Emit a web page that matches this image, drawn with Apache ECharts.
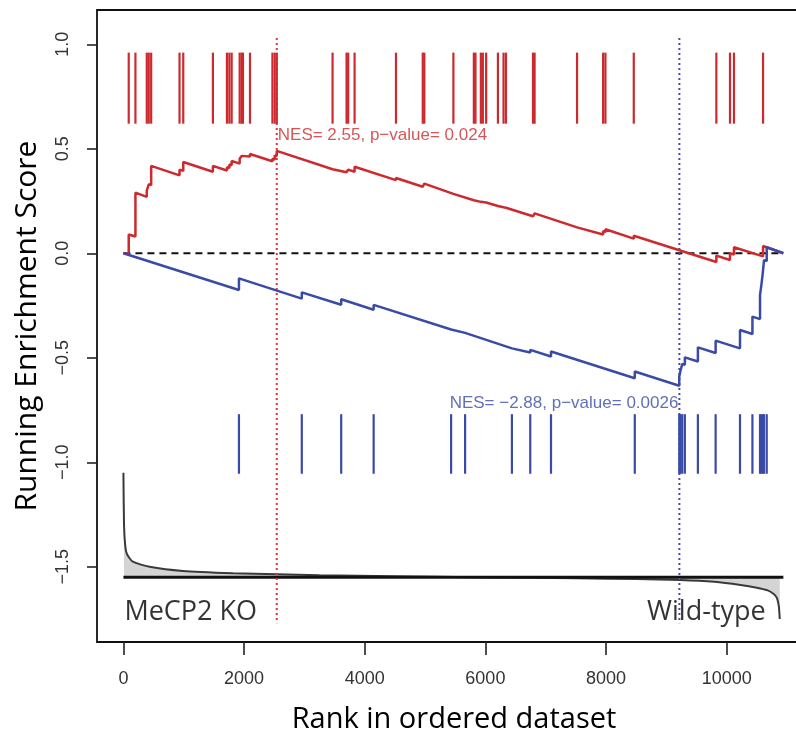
<!DOCTYPE html>
<html>
<head>
<meta charset="utf-8">
<script src="https://cdn.jsdelivr.net/npm/echarts@6/dist/echarts.min.js"></script>
<style>
  html, body { margin: 0; padding: 0; background: #fff; }
  #chart { width: 796px; height: 733px; }
</style>
</head>
<body>
<div id="chart"></div>
<script>
// axis ticks
const xTicks = [0, 2000, 4000, 6000, 8000, 10000];
const yTicks = [-1.5, -1.0, -0.5, 0.0, 0.5, 1.0];
const totalRank = 10940;

// gene set hits (rank positions)
const redHits = [88, 199, 387, 420, 460, 930, 992, 1483, 1716, 1756, 1794, 1927, 1960, 1982, 2098,
  2470, 2508, 2542, 3467, 3699, 3726, 3832, 4518, 4962, 4988, 5470, 5809, 5836, 5925, 5958, 6013,
  6208, 6301, 6341, 6789, 6816, 7520, 7952, 7990, 8460, 9829, 10055, 10121, 10603];
const blueHits = [1915, 2957, 3610, 4148, 5432, 5664, 6440, 6744, 7088, 8477, 9214, 9236, 9264, 9307,
  9523, 9817, 10221, 10427, 10553, 10576, 10598, 10619, 10664];

// running enrichment score [rank, score]
const redES = [[0, 0], [88, 0], [88, 0.09], [199, 0.08], [199, 0.29], [387, 0.27], [387, 0.30],
  [420, 0.297], [420, 0.33], [460, 0.326], [460, 0.418], [930, 0.373], [930, 0.40], [992, 0.394],
  [992, 0.437], [1483, 0.39], [1483, 0.418], [1716, 0.396], [1716, 0.412], [1756, 0.408], [1756, 0.425],
  [1794, 0.421], [1794, 0.442], [1927, 0.429], [1927, 0.452], [1960, 0.449], [1960, 0.466],
  [1982, 0.464], [1982, 0.474], [2098, 0.463], [2098, 0.475], [2470, 0.44], [2470, 0.452],
  [2508, 0.449], [2508, 0.468], [2542, 0.465], [2542, 0.49], [3467, 0.402], [3467, 0.41],
  [3699, 0.388], [3699, 0.396], [3726, 0.393], [3726, 0.40], [3832, 0.39], [3832, 0.414],
  [4518, 0.35], [4518, 0.36], [4962, 0.318], [4962, 0.325], [4988, 0.323], [4988, 0.333],
  [5470, 0.284], [5470, 0.288], [5809, 0.254], [5809, 0.256], [5836, 0.253], [5836, 0.255],
  [5925, 0.246], [5925, 0.249], [5958, 0.246], [5958, 0.248], [6013, 0.243], [6013, 0.245],
  [6208, 0.226], [6208, 0.229], [6301, 0.22], [6301, 0.222], [6341, 0.218], [6341, 0.221],
  [6789, 0.177], [6789, 0.185], [6816, 0.182], [6816, 0.191], [7520, 0.124], [7520, 0.131],
  [7952, 0.09], [7952, 0.106], [7990, 0.102], [7990, 0.115], [8460, 0.07], [8460, 0.084],
  [9829, -0.042], [9829, -0.011], [10055, -0.032], [10055, 0.0], [10121, -0.006], [10121, 0.029],
  [10603, -0.015], [10603, 0.035], [10940, 0]];
const blueES = [[0, 0], [1915, -0.176], [1915, -0.12], [2957, -0.217], [2957, -0.187],
  [3610, -0.246], [3610, -0.22], [4148, -0.27], [4148, -0.247], [5432, -0.365], [5432, -0.36],
  [5664, -0.381], [5664, -0.375], [6440, -0.455], [6440, -0.447], [6744, -0.475], [6744, -0.462],
  [7088, -0.494], [7088, -0.47], [8477, -0.598], [8477, -0.566], [9214, -0.634], [9214, -0.59],
  [9236, -0.592], [9236, -0.56], [9264, -0.563], [9264, -0.53], [9307, -0.534], [9307, -0.498],
  [9523, -0.518], [9523, -0.45], [9817, -0.477], [9817, -0.418], [10221, -0.455], [10221, -0.367],
  [10427, -0.386], [10427, -0.303], [10553, -0.315], [10553, -0.2], [10576, -0.202], [10576, -0.15],
  [10598, -0.152], [10598, -0.096], [10619, -0.098], [10619, -0.033], [10664, -0.037], [10664, 0.029],
  [10940, 0]];

// ranked list metric (bottom panel)
const metricRank = [0, 10, 30, 60, 155, 432, 985, 1815, 2540, 3253, 4500, 6000, 7500, 8500, 9230,
  9800, 10230, 10500, 10670, 10780, 10834, 10865, 10880];
const metricScore = [-1.05, -1.30, -1.40, -1.44, -1.476, -1.50, -1.52, -1.531, -1.536, -1.541, -1.545,
  -1.551, -1.555, -1.559, -1.563, -1.572, -1.587, -1.60, -1.612, -1.63, -1.65, -1.69, -1.75];
const metricBase = -1.55;

const redPeakRank = 2542;
const bluePeakRank = 9216;
const redLabel = 'NES= 2.55, p\u2212value= 0.024';
const blueLabel = 'NES= \u22122.88, p\u2212value= 0.0026';
const leftGroup = 'MeCP2 KO';
const rightGroup = 'Wild-type';

const RED = '#cc2a2e';
const BLUE = '#3a4ba6';
const tickFont = 'Liberation Sans, Arial, sans-serif';
const bigFont = 'Open Sans, sans-serif';

function hitSeries(hits, color, top, bottom) {
  return {
    type: 'custom',
    data: hits.map(r => [r, top, bottom]),
    encode: { x: 0, y: [1, 2] },
    renderItem: function (params, api) {
      const p1 = api.coord([api.value(0), api.value(1)]);
      const p2 = api.coord([api.value(0), api.value(2)]);
      return {
        type: 'line',
        shape: { x1: p1[0], y1: p1[1], x2: p2[0], y2: p2[1] },
        style: { stroke: color, lineWidth: 2.2 },
      };
    },
    z: 3,
  };
}

function textSeries(point, text, color, pos, font, size) {
  return {
    type: 'scatter',
    symbolSize: 0,
    data: [point],
    label: {
      show: true,
      position: pos,
      distance: 1,
      formatter: text,
      color: color,
      fontFamily: font,
      fontSize: size,
    },
    silent: true,
    z: 5,
  };
}

const chart = echarts.init(document.getElementById('chart'), null, { renderer: 'canvas' });

chart.setOption({
  animation: false,
  grid: {
    left: 97,
    top: 10,
    width: 714,
    height: 632,
    outerBoundsMode: 'none',
    containLabel: false,
    show: true,
    borderColor: '#111',
    borderWidth: 1.8,
    backgroundColor: 'transparent',
  },
  xAxis: {
    type: 'value',
    min: -438,
    max: 11398,
    name: 'Rank in ordered dataset',
    nameLocation: 'middle',
    nameGap: 63,
    nameTextStyle: { fontFamily: bigFont, fontSize: 29, color: '#000' },
    axisLine: { show: false, onZero: false },
    splitLine: { show: false },
    axisTick: { show: true, inside: false, length: 13, customValues: xTicks, lineStyle: { color: '#222', width: 1.6 } },
    axisLabel: {
      customValues: xTicks,
      margin: 28,
      fontFamily: tickFont,
      fontSize: 18,
      color: '#333',
      formatter: v => String(v),
    },
  },
  yAxis: {
    type: 'value',
    min: -1.86,
    max: 1.164,
    name: 'Running Enrichment Score',
    nameLocation: 'middle',
    nameGap: 55,
    nameTextStyle: { fontFamily: bigFont, fontSize: 30, color: '#000' },
    axisLine: { show: false, onZero: false },
    splitLine: { show: false },
    axisTick: { show: true, inside: false, length: 10, customValues: yTicks, lineStyle: { color: '#222', width: 1.6 } },
    axisLabel: {
      customValues: yTicks,
      rotate: 90,
      margin: 25,
      fontFamily: tickFont,
      fontSize: 18,
      color: '#333',
      formatter: v => v.toFixed(1).replace('-', '\u2212'),
    },
  },
  series: [
    // ranked metric area
    {
      type: 'line',
      data: metricRank.map((r, i) => [r, metricScore[i]]),
      showSymbol: false,
      smooth: 0.2,
      lineStyle: { color: '#3a3a3a', width: 2 },
      areaStyle: { origin: metricBase, color: '#d4d4d4', opacity: 1 },
      z: 2,
    },
    {
      type: 'line',
      data: [[0, metricBase], [totalRank, metricBase]],
      showSymbol: false,
      lineStyle: { color: '#111', width: 3 },
      z: 2,
    },
    // zero line
    {
      type: 'line',
      data: [[0, 0], [totalRank, 0]],
      showSymbol: false,
      lineStyle: { color: '#111', width: 2, type: [7, 5] },
      z: 2,
    },
    // peak markers
    {
      type: 'line',
      data: [[redPeakRank, 1.03], [redPeakRank, -1.77]],
      showSymbol: false,
      lineStyle: { color: '#e0343c', width: 2, type: [2, 3] },
      z: 2,
    },
    {
      type: 'line',
      data: [[bluePeakRank, 1.03], [bluePeakRank, -1.77]],
      showSymbol: false,
      lineStyle: { color: '#4a4aa0', width: 2, type: [2, 3] },
      z: 2,
    },
    hitSeries(redHits, RED, 0.96, 0.62),
    hitSeries(blueHits, BLUE, -0.77, -1.055),
    {
      type: 'line',
      data: redES,
      showSymbol: false,
      lineStyle: { color: RED, width: 2.5 },
      z: 4,
    },
    {
      type: 'line',
      data: blueES,
      showSymbol: false,
      lineStyle: { color: BLUE, width: 2.5 },
      z: 4,
    },
    textSeries([redPeakRank, 0.566], redLabel, RED, 'right', tickFont, 17),
    textSeries([bluePeakRank, -0.716], blueLabel, BLUE, 'left', tickFont, 17),
    textSeries([0, -1.716], leftGroup, '#000', 'right', bigFont, 27),
    textSeries([10664, -1.716], rightGroup, '#000', 'left', bigFont, 27),
  ],
});
</script>
</body>
</html>
